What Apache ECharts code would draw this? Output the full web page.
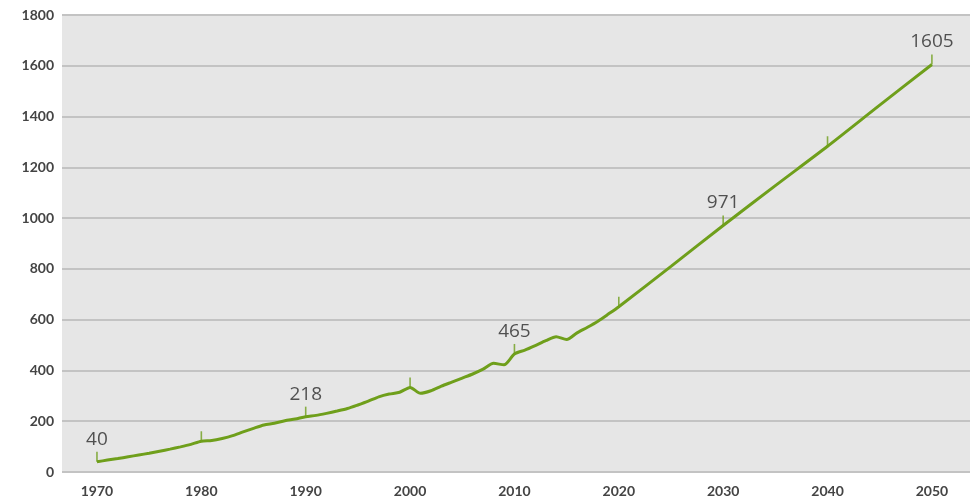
<!DOCTYPE html>
<html>
<head>
<meta charset="utf-8">
<script src="https://cdn.jsdelivr.net/npm/echarts@6/dist/echarts.min.js"></script>
<style>
  html, body { margin: 0; padding: 0; background: #ffffff; }
  #chart { width: 970px; height: 504px; }
</style>
</head>
<body>
<div id="chart"></div>
<script>
// Yearly values 1970-2020, then five-year steps to 2050
const years = [
  1970, 1971, 1972, 1973, 1974, 1975, 1976, 1977, 1978, 1979,
  1980, 1981, 1982, 1983, 1984, 1985, 1986, 1987, 1988, 1989,
  1990, 1991, 1992, 1993, 1994, 1995, 1996, 1997, 1998, 1999,
  2000, 2001, 2002, 2003, 2004, 2005, 2006, 2007, 2008, 2009,
  2010, 2011, 2012, 2013, 2014, 2015, 2016, 2017, 2018, 2019,
  2020, 2025, 2030, 2035, 2040, 2045, 2050
];
const values = [
  40, 47, 53, 60, 67, 74, 82, 90, 99, 109,
  121, 124, 132, 143, 158, 172, 185, 192, 202, 209,
  218, 223, 231, 240, 250, 264, 279, 296, 307, 314,
  333, 310, 320, 338, 354, 370, 386, 405, 428, 422,
  465, 480, 498, 517, 533, 522, 548, 570, 594, 622,
  651, 810, 971, 1128, 1283, 1445, 1605
];

// Decade marks along the line, and the ones that carry a value label
const decadeTicks = [1970, 1980, 1990, 2000, 2010, 2020, 2030, 2040, 2050];
const labelledYears = [1970, 1990, 2010, 2030, 2050];

// Axis tick labels
const xTickLabels = [1970, 1980, 1990, 2000, 2010, 2020, 2030, 2040, 2050];
const yTicks = { min: 0, max: 1800, step: 200 };

const lineData = years.map((y, i) => [y, values[i]]);
const tickData = decadeTicks.map(y => [y, values[years.indexOf(y)]]);

const green = '#6f9f1b';
const axisFont = 'Lato, "Open Sans", sans-serif';

const chart = echarts.init(document.getElementById('chart'), null, { renderer: 'canvas' });
chart.setOption({
  animation: false,
  backgroundColor: '#ffffff',
  grid: {
    left: 62, right: 0, top: 15, bottom: 32,
    show: true, backgroundColor: '#e6e6e6', borderWidth: 0
  },
  xAxis: {
    type: 'value',
    min: 1966.65,
    max: 2053.65,
    axisLine: { show: false },
    axisTick: { show: false },
    splitLine: { show: false },
    axisLabel: {
      customValues: xTickLabels,
      formatter: v => String(v),
      color: '#444444',
      fontFamily: axisFont,
      fontWeight: 'bold',
      fontSize: 14,
      margin: 12
    }
  },
  yAxis: {
    type: 'value',
    min: yTicks.min,
    max: yTicks.max,
    interval: yTicks.step,
    axisLine: { show: false },
    axisTick: { show: false },
    splitLine: { show: true, lineStyle: { color: '#c3c3c3', width: 2 } },
    axisLabel: {
      formatter: v => String(v),
      color: '#444444',
      fontFamily: axisFont,
      fontWeight: 'bold',
      fontSize: 14,
      margin: 8
    }
  },
  series: [
    {
      type: 'line',
      data: lineData,
      showSymbol: false,
      smooth: 0.25,
      lineStyle: { color: green, width: 3 },
      z: 3
    },
    {
      type: 'scatter',
      data: tickData,
      symbol: 'rect',
      symbolSize: [1.6, 10],
      symbolOffset: [0, -5],
      itemStyle: { color: green },
      z: 4,
      label: {
        show: true,
        position: 'top',
        distance: 3,
        color: '#2a2a2a',
        fontFamily: '"Open Sans", sans-serif',
        fontSize: 19,
        formatter: p => labelledYears.includes(p.value[0]) ? String(p.value[1]) : ''
      }
    }
  ]
});
</script>
</body>
</html>
